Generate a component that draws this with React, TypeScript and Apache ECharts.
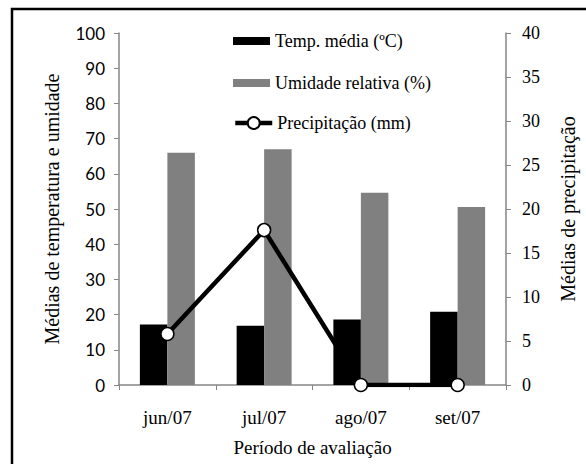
import React, { useEffect, useRef } from "react";
import * as echarts from "echarts";

const categories = ["jun/07", "jul/07", "ago/07", "set/07"];
const tempMedia = [17.2, 16.8, 18.6, 20.8];
const umidade = [66.0, 67.0, 54.6, 50.6];
const precipitacao = [5.8, 17.6, 0, 0];
const leftTicks = [0, 10, 20, 30, 40, 50, 60, 70, 80, 90, 100];
const rightTicks = [0, 5, 10, 15, 20, 25, 30, 35, 40];

const SERIF = "Liberation Serif";
const AXIS_GRAY = "#868686";

export default function App() {
  const ref = useRef<HTMLDivElement>(null);
  useEffect(() => {
    if (!ref.current) return;
    const chart = echarts.init(ref.current, null, { renderer: "svg" });
    const legendBase = {
      left: 233,
      padding: 0,
      itemWidth: 37,
      itemGap: 0,
      textStyle: { fontFamily: SERIF, fontSize: 18, color: "#000" },
    };
    chart.setOption({
      animation: false,
      backgroundColor: "#fff",
      textStyle: { fontFamily: SERIF },
      graphic: [
        {
          type: "rect",
          shape: { x: 12, y: 9, width: 620, height: 520 },
          style: { fill: "none", stroke: "#000", lineWidth: 2.5 },
          silent: true,
          z: 100,
        },
      ],
      legend: [
        { ...legendBase, top: 32, itemHeight: 8, icon: "rect", data: ["Temp. média (ºC)"] },
        { ...legendBase, top: 74, itemHeight: 8, icon: "rect", data: ["Umidade relativa (%)"] },
        {
          ...legendBase,
          top: 114,
          itemHeight: 15,
          lineStyle: { width: 4.5, color: "#000" },
          data: ["Precipitação (mm)"],
        },
      ],
      grid: { left: 119, right: 76, top: 33, bottom: 79, containLabel: false },
      xAxis: {
        type: "category",
        data: categories,
        name: "Período de avaliação",
        nameLocation: "middle",
        nameGap: 53,
        nameTextStyle: { fontFamily: SERIF, fontSize: 19, color: "#000" },
        axisLine: { lineStyle: { color: AXIS_GRAY, width: 1.5 } },
        axisTick: { show: true, length: 5, lineStyle: { color: AXIS_GRAY } },
        axisLabel: { margin: 23, fontFamily: SERIF, fontSize: 19, color: "#000" },
      },
      yAxis: [
        {
          type: "value",
          min: leftTicks[0],
          max: leftTicks[leftTicks.length - 1],
          interval: 10,
          name: "Médias de temperatura e umidade",
          nameLocation: "middle",
          nameRotate: 90,
          nameGap: 57,
          nameTextStyle: { fontFamily: SERIF, fontSize: 20, color: "#000" },
          axisLine: { show: true, lineStyle: { color: AXIS_GRAY, width: 1.5 } },
          axisTick: { show: true, length: 5, lineStyle: { color: AXIS_GRAY } },
          axisLabel: { margin: 14, fontFamily: "Lato", fontSize: 17, color: "#000" },
          splitLine: { show: false },
        },
        {
          type: "value",
          min: rightTicks[0],
          max: rightTicks[rightTicks.length - 1],
          interval: 5,
          position: "right",
          name: "Médias de precipitação",
          nameLocation: "middle",
          nameRotate: 90,
          nameGap: 52,
          nameTextStyle: { fontFamily: SERIF, fontSize: 20, color: "#000" },
          axisLine: { show: true, lineStyle: { color: AXIS_GRAY, width: 1.5 } },
          axisTick: { show: true, length: 5, lineStyle: { color: AXIS_GRAY } },
          axisLabel: { margin: 16, fontFamily: SERIF, fontSize: 18, color: "#000" },
          splitLine: { show: false },
        },
      ],
      series: [
        {
          name: "Temp. média (ºC)",
          type: "bar",
          data: tempMedia,
          barWidth: 27.5,
          barGap: "0%",
          itemStyle: { color: "#000000" },
        },
        {
          name: "Umidade relativa (%)",
          type: "bar",
          data: umidade,
          barWidth: 27.5,
          barGap: "0%",
          itemStyle: { color: "#808080" },
        },
        {
          name: "Precipitação (mm)",
          type: "line",
          yAxisIndex: 1,
          data: precipitacao,
          symbol: "circle",
          symbolSize: 13,
          showAllSymbol: true,
          lineStyle: { color: "#000", width: 4.5 },
          itemStyle: { color: "#fff", borderColor: "#000", borderWidth: 1.5 },
          z: 5,
        },
      ],
    });
    return () => chart.dispose();
  }, []);
  return (
    <div
      ref={ref}
      style={{ position: "absolute", left: 0, top: 0, width: 586, height: 464 }}
    />
  );
}
